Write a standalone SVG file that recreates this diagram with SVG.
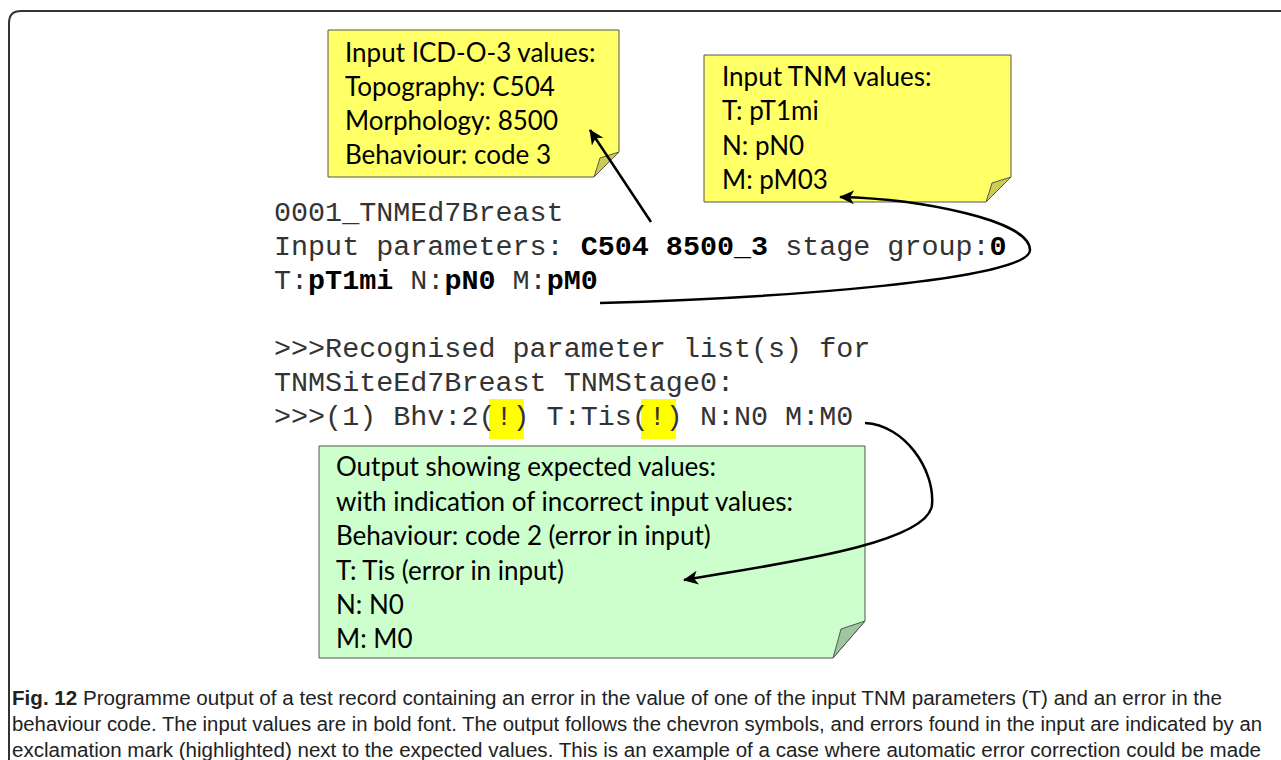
<svg xmlns="http://www.w3.org/2000/svg" width="1281" height="760" viewBox="0 0 1281 760">
<style>
.note{font-family:Lato,"Liberation Sans",sans-serif;font-size:26px;fill:#000}
.code{font-family:"Liberation Mono","Courier New",monospace;font-size:28.4px;fill:#333}
.b{font-weight:bold;fill:#000}
.cap{font-family:"Liberation Sans",Arial,sans-serif;font-size:19.5px;fill:#222}
.ybox{fill:#ffff66;stroke:#555;stroke-width:1}
.yfold{fill:#cccc52;stroke:#555;stroke-width:1}
.gbox{fill:#ccffcc;stroke:#555;stroke-width:1}
.gfold{fill:#9fc79f;stroke:#555;stroke-width:1}
.hl{fill:#ffff00}
.conn{fill:none;stroke:#000;stroke-width:2.5}
</style>
<defs>
<marker id="ah" markerUnits="userSpaceOnUse" markerWidth="16" markerHeight="14" refX="14" refY="7" orient="auto">
<path d="M0,0 L15,7 L0,14 L4,7 Z" fill="#000"/>
</marker>
</defs>
<rect width="1281" height="760" fill="#fff"/>
<path d="M9,760 L9,23 Q9,11 21,11 L1281,11" fill="none" stroke="#333" stroke-width="2"/>

<g id="icd-note">
<path class="ybox" d="M328,30 H619 V152 L594,177 H328 Z"/>
<path class="yfold" d="M619,152 L600,158 Q597,168 594,177 Z"/>
<text class="note" x="345" y="62">Input ICD-O-3 values:</text>
<text class="note" x="345" y="96">Topography: C504</text>
<text class="note" x="345" y="130">Morphology: 8500</text>
<text class="note" x="345" y="164">Behaviour: code 3</text>
</g>

<g id="tnm-note">
<path class="ybox" d="M704,55 H1011 V177 L986,202 H704 Z"/>
<path class="yfold" d="M1011,177 L992,183 Q989,193 986,202 Z"/>
<text class="note" x="722" y="86">Input TNM values:</text>
<text class="note" x="722" y="120">T: pT1mi</text>
<text class="note" x="722" y="155">N: pN0</text>
<text class="note" x="722" y="189">M: pM03</text>
</g>

<g id="input-code">
<text class="code" x="274" y="221" xml:space="preserve">0001_TNMEd7Breast</text>
<text class="code" x="274" y="255" xml:space="preserve">Input parameters: <tspan class="b">C504 8500_3</tspan> stage group:<tspan class="b">0</tspan></text>
<text class="code" x="274" y="289" xml:space="preserve">T:<tspan class="b">pT1mi</tspan> N:<tspan class="b">pN0</tspan> M:<tspan class="b">pM0</tspan></text>
</g>

<g id="output-code">
<rect class="hl" x="489" y="399" width="35" height="40"/>
<rect class="hl" x="641" y="399" width="35" height="40"/>
<text class="code" x="274" y="357" xml:space="preserve">&gt;&gt;&gt;Recognised parameter list(s) for</text>
<text class="code" x="274" y="391" xml:space="preserve">TNMSiteEd7Breast TNMStage0:</text>
<text class="code" x="274" y="425" xml:space="preserve">&gt;&gt;&gt;(1) Bhv:2(!) T:Tis(!) N:N0 M:M0</text>
</g>

<g id="output-note">
<path class="gbox" d="M319,446 H865 V621 L833,658 H319 Z"/>
<path class="gfold" d="M865,621 L841,629 Q837,644 833,658 Z"/>
<text class="note" x="336" y="476">Output showing expected values:</text>
<text class="note" x="336" y="511">with indication of incorrect input values:</text>
<text class="note" x="336" y="545">Behaviour: code 2 (error in input)</text>
<text class="note" x="336" y="580">T: Tis (error in input)</text>
<text class="note" x="336" y="614">N: N0</text>
<text class="note" x="336" y="648">M: M0</text>
</g>

<g id="connectors">
<path class="conn" d="M651,222 L590,130" marker-end="url(#ah)"/>
<path class="conn" d="M600,303 C780,298 1030,280 1030,250 C1030,220 920,199 840,197" marker-end="url(#ah)"/>
<path class="conn" d="M865,423 C905,425 935,470 932,505 C928,545 770,565 684,580" marker-end="url(#ah)"/>
</g>

<g id="caption">
<text class="cap" x="12" y="705" textLength="1210" lengthAdjust="spacingAndGlyphs"><tspan font-weight="bold">Fig. 12</tspan> Programme output of a test record containing an error in the value of one of the input TNM parameters (T) and an error in the</text>
<text class="cap" x="12" y="731" textLength="1250" lengthAdjust="spacingAndGlyphs">behaviour code. The input values are in bold font. The output follows the chevron symbols, and errors found in the input are indicated by an</text>
<text class="cap" x="12" y="757" textLength="1249" lengthAdjust="spacingAndGlyphs">exclamation mark (highlighted) next to the expected values. This is an example of a case where automatic error correction could be made</text>
</g>
</svg>
